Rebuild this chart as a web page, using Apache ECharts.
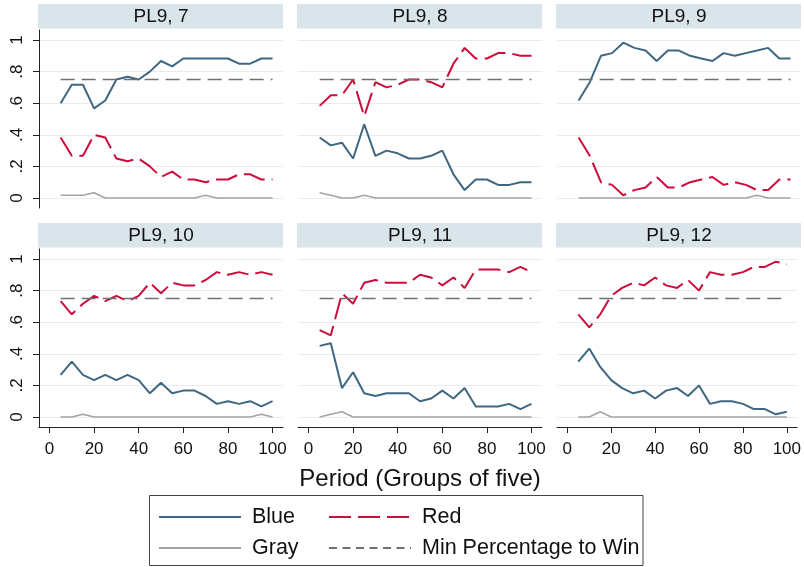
<!DOCTYPE html>
<html><head><meta charset="utf-8">
<script src="https://cdn.jsdelivr.net/npm/echarts@6/dist/echarts.min.js"></script>
<style>html,body{margin:0;padding:0;background:#fff}#c{width:804px;height:567px}</style>
</head><body><div id="c"></div>
<script>
// ---- data ----
const periods = [5,10,15,20,25,30,35,40,45,50,55,60,65,70,75,80,85,90,95,100];
const panelTitles = ['PL9, 7','PL9, 8','PL9, 9','PL9, 10','PL9, 11','PL9, 12'];
const xTicks = [0,20,40,60,80,100];
const yTicks = [0,0.2,0.4,0.6,0.8,1];
const yTickLabels = ['0','.2','.4','.6','.8','1'];
const seriesNames = ['Blue','Red','Gray','Min Percentage to Win'];

const blue7 = [0.6,0.717,0.717,0.567,0.617,0.75,0.767,0.75,0.8,0.867,0.833,0.883,0.883,0.883,0.883,0.883,0.85,0.85,0.883,0.883];
const red7  = [0.383,0.267,0.267,0.4,0.383,0.25,0.233,0.25,0.2,0.133,0.167,0.117,0.117,0.1,0.117,0.117,0.15,0.15,0.117,0.117];
const gray7 = [0.017,0.017,0.017,0.033,0,0,0,0,0,0,0,0,0,0.017,0,0,0,0,0,0];

const blue8 = [0.383,0.333,0.35,0.25,0.467,0.267,0.3,0.283,0.25,0.25,0.267,0.3,0.15,0.05,0.117,0.117,0.083,0.083,0.1,0.1];
const red8  = [0.583,0.65,0.65,0.75,0.517,0.733,0.7,0.717,0.75,0.75,0.733,0.7,0.85,0.95,0.883,0.883,0.917,0.917,0.9,0.9];
const gray8 = [0.033,0.017,0,0,0.017,0,0,0,0,0,0,0,0,0,0,0,0,0,0,0];

const blue9 = [0.617,0.733,0.9,0.917,0.983,0.95,0.933,0.867,0.933,0.933,0.9,0.883,0.867,0.917,0.9,0.917,0.933,0.95,0.883,0.883];
const red9  = [0.383,0.267,0.1,0.083,0.017,0.05,0.067,0.133,0.067,0.067,0.1,0.117,0.133,0.083,0.1,0.083,0.05,0.05,0.117,0.117];
const gray9 = [0,0,0,0,0,0,0,0,0,0,0,0,0,0,0,0,0.017,0,0,0];

const blue10 = [0.267,0.35,0.267,0.233,0.267,0.233,0.267,0.233,0.15,0.217,0.15,0.167,0.167,0.133,0.083,0.1,0.083,0.1,0.067,0.1];
const red10  = [0.733,0.65,0.717,0.767,0.733,0.767,0.733,0.767,0.85,0.783,0.85,0.833,0.833,0.867,0.917,0.9,0.917,0.9,0.917,0.9];
const gray10 = [0,0,0.017,0,0,0,0,0,0,0,0,0,0,0,0,0,0,0,0.017,0];

const blue11 = [0.45,0.467,0.183,0.283,0.15,0.133,0.15,0.15,0.15,0.1,0.117,0.167,0.117,0.183,0.067,0.067,0.067,0.083,0.05,0.083];
const red11  = [0.55,0.517,0.783,0.717,0.85,0.867,0.85,0.85,0.85,0.9,0.883,0.833,0.883,0.817,0.933,0.933,0.933,0.917,0.95,0.917];
const gray11 = [0,0.017,0.033,0,0,0,0,0,0,0,0,0,0,0,0,0,0,0,0,0];

const blue12 = [0.35,0.433,0.317,0.233,0.183,0.15,0.167,0.117,0.167,0.183,0.133,0.2,0.083,0.1,0.1,0.083,0.05,0.05,0.017,0.033];
const red12  = [0.65,0.567,0.65,0.767,0.817,0.85,0.833,0.883,0.833,0.817,0.867,0.8,0.917,0.9,0.9,0.917,0.95,0.95,0.983,0.967];
const gray12 = [0,0,0.033,0,0,0,0,0,0,0,0,0,0,0,0,0,0,0,0,0];

const minWin = [0.75,0.75,0.75,0.75,0.75,0.75,0.75,0.75,0.75,0.75,0.75,0.75,0.75,0.75,0.75,0.75,0.75,0.75,0.75,0.75];

// ---- chart ----
const FONT = '"Liberation Sans", Arial, Helvetica, sans-serif';
const panels = [
  {blue: blue7, red: red7, gray: gray7},
  {blue: blue8, red: red8, gray: gray8},
  {blue: blue9, red: red9, gray: gray9},
  {blue: blue10, red: red10, gray: gray10},
  {blue: blue11, red: red11, gray: gray11},
  {blue: blue12, red: red12, gray: gray12}
];
const styles = {
  'Blue': {color:'#3f6781', width:2, type:'solid'},
  'Red': {color:'#cc0c3a', width:2, type:[22,7]},
  'Gray': {color:'#a3a3a3', width:1.5, type:'solid'},
  'Min Percentage to Win': {color:'#707070', width:1.6, type:[14,7]}
};
const colLeft = [39, 298, 557], rowTop = [30, 249], W = 244, H = 178;
const grid = [], xAxis = [], yAxis = [], series = [], graphic = [];
const axisColor = '#222';

panels.forEach((p, i) => {
  const r = Math.floor(i / 3), c = i % 3;
  grid.push({left: colLeft[c], top: rowTop[r], width: W, height: H});
  xAxis.push({
    type: 'value', gridIndex: i, min: -4.7, max: 104.7, show: r === 1,
    axisLine: {show: true, onZero: false, lineStyle: {color: axisColor, width: 1}},
    axisTick: {show: true, length: 6, customValues: xTicks, lineStyle: {color: axisColor}},
    axisLabel: {customValues: xTicks, fontSize: 17, color: '#111', margin: 14, fontFamily: FONT},
    splitLine: {show: false},
    name: (r === 1 && c === 1) ? 'Period (Groups of five)' : '',
    nameLocation: 'middle', nameGap: 40,
    nameTextStyle: {fontSize: 24, color: '#111', fontFamily: FONT}
  });
  yAxis.push({
    type: 'value', gridIndex: i, min: -0.0633, max: 1.0633,
    axisLine: {show: c === 0, onZero: false, lineStyle: {color: axisColor, width: 1}},
    axisTick: {show: c === 0, length: 6, customValues: yTicks, lineStyle: {color: axisColor}},
    axisLabel: {show: c === 0, customValues: yTicks, rotate: 90, fontSize: 17, color: '#111', margin: 13, fontFamily: FONT,
      formatter: v => { let k = yTicks.findIndex(t => Math.abs(t - v) < 1e-6); return k >= 0 ? yTickLabels[k] : ''; }},
    splitLine: {show: true, lineStyle: {color: '#e4edf0', width: 1}}
  });
  const vals = {'Blue': p.blue, 'Red': p.red, 'Gray': p.gray, 'Min Percentage to Win': minWin};
  seriesNames.forEach(nm => {
    const s = styles[nm];
    series.push({
      type: 'line', name: nm, xAxisIndex: i, yAxisIndex: i,
      data: periods.map((x, k) => [x, vals[nm][k]]),
      symbol: 'none', showSymbol: false, silent: true,
      lineStyle: {color: s.color, width: s.width, type: s.type},
      itemStyle: {color: s.color}
    });
  });
  // panel header strip
  graphic.push({type: 'rect', silent: true, z: 0,
    shape: {x: colLeft[c] - 1, y: rowTop[r] - 26, width: W + 1, height: 24.5},
    style: {fill: '#d9e5ea'}});
  graphic.push({type: 'text', silent: true, z: 1,
    x: colLeft[c] + W / 2, y: rowTop[r] - 26 + 12.5,
    style: {text: panelTitles[i], font: '19px ' + FONT, fill: '#111',
      align: 'center', verticalAlign: 'middle', textAlign: 'center', textVerticalAlign: 'middle'}});
});

// legend frame
graphic.push({type: 'rect', silent: true,
  shape: {x: 149.5, y: 495.5, width: 493.5, height: 70},
  style: {fill: 'none', stroke: '#444', lineWidth: 1}});

const legendCommon = {
  orient: 'vertical', top: 506, itemWidth: 82, itemHeight: 14, itemGap: 9, padding: 0,
  selectedMode: false,
  itemStyle: {opacity: 0, color: 'transparent', borderWidth: 0},
  textStyle: {fontSize: 21.5, color: '#111', fontFamily: FONT, padding: [0, 0, 0, 6]}
};

const chart = echarts.init(document.getElementById('c'), null, {renderer: 'canvas'});
chart.setOption({
  animation: false,
  backgroundColor: '#ffffff',
  grid, xAxis, yAxis, series, graphic,
  legend: [
    Object.assign({}, legendCommon, {left: 158, data: ['Blue', 'Gray']}),
    Object.assign({}, legendCommon, {left: 328, data: ['Red', {name: 'Min Percentage to Win', lineStyle: {type: [8, 5.5]}}]})
  ]
});
</script></body></html>
